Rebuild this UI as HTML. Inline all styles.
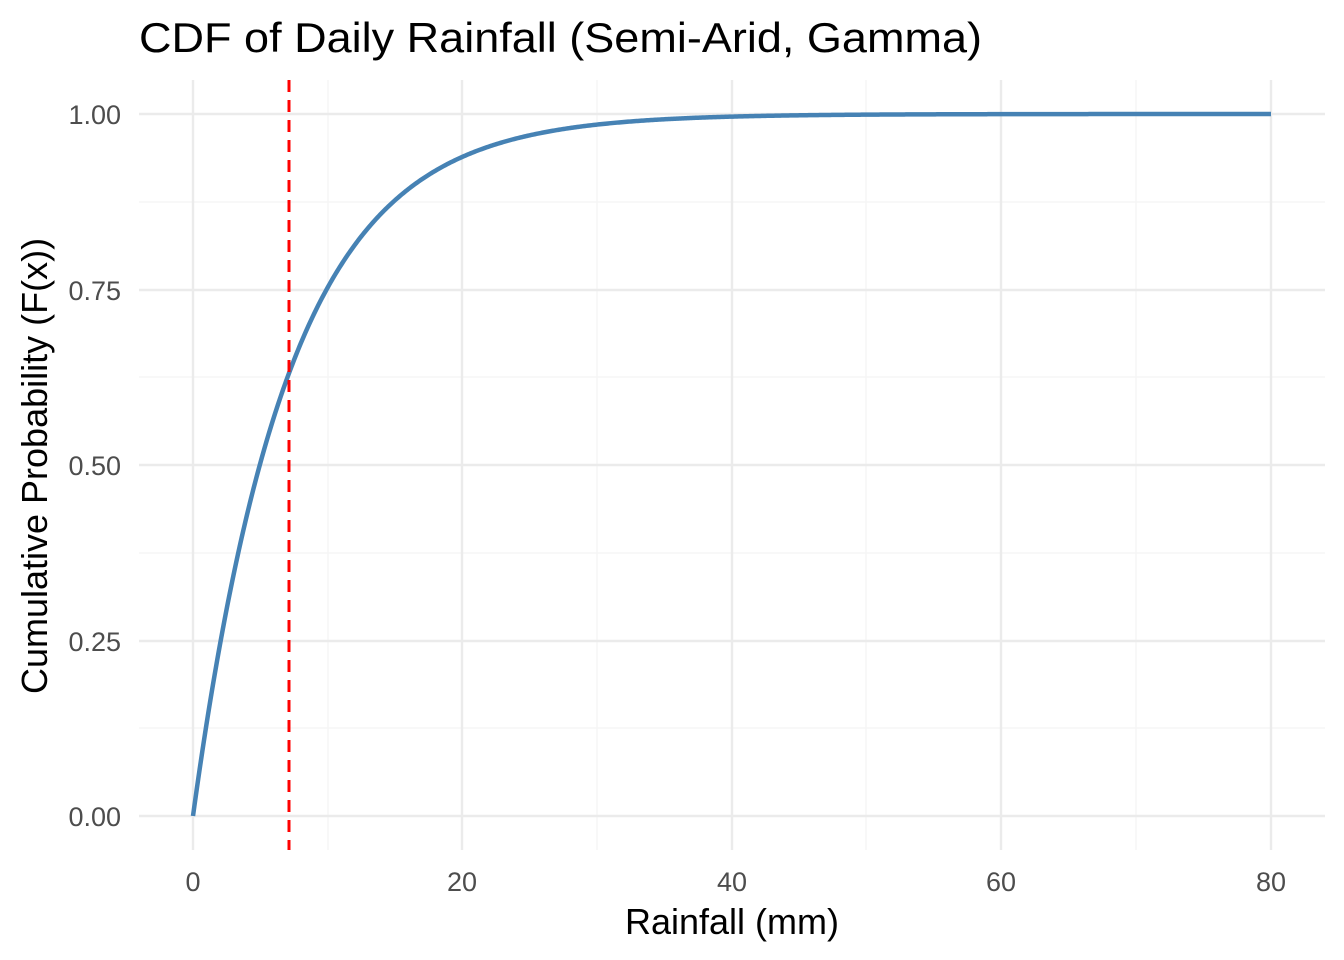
<!DOCTYPE html>
<html><head><meta charset="utf-8"><style>html,body{margin:0;padding:0;background:#fff}svg{display:block}</style></head>
<body>
<svg id="s" width="1344" height="960" xmlns="http://www.w3.org/2000/svg" font-family="Liberation Sans, Arial, sans-serif">
<rect width="1344" height="960" fill="#fff"/>
<g stroke="#f4f4f4" stroke-width="1.2">
<line x1="139" x2="1325" y1="728" y2="728"/><line x1="139" x2="1325" y1="553" y2="553"/><line x1="139" x2="1325" y1="377" y2="377"/><line x1="139" x2="1325" y1="202" y2="202"/>
<line y1="80" y2="850" x1="328" x2="328"/><line y1="80" y2="850" x1="597" x2="597"/><line y1="80" y2="850" x1="866" x2="866"/><line y1="80" y2="850" x1="1136" x2="1136"/>
</g>
<g stroke="#ebebeb" stroke-width="2.4">
<line x1="139" x2="1325" y1="816" y2="816"/><line x1="139" x2="1325" y1="641" y2="641"/><line x1="139" x2="1325" y1="465" y2="465"/><line x1="139" x2="1325" y1="290" y2="290"/><line x1="139" x2="1325" y1="114" y2="114"/>
<line y1="80" y2="850" x1="193" x2="193"/><line y1="80" y2="850" x1="462" x2="462"/><line y1="80" y2="850" x1="732" x2="732"/><line y1="80" y2="850" x1="1001" x2="1001"/><line y1="80" y2="850" x1="1271" x2="1271"/>
</g>
<path id="c" fill="none" stroke="#4682b4" stroke-width="4.5" stroke-linejoin="round"/>
<line x1="289" x2="289" y1="80" y2="850" stroke="#ff0000" stroke-width="3" stroke-dasharray="12,8"/>
<g fill="#4d4d4d" font-size="27" text-anchor="end">
<text x="121" y="826">0.00</text><text x="121" y="651">0.25</text><text x="121" y="475">0.50</text><text x="121" y="300">0.75</text><text x="121" y="124">1.00</text>
</g>
<g fill="#4d4d4d" font-size="27" text-anchor="middle">
<text x="193" y="891">0</text><text x="462" y="891">20</text><text x="732" y="891">40</text><text x="1001" y="891">60</text><text x="1271" y="891">80</text>
</g>
<text x="732" y="934" font-size="36" text-anchor="middle" fill="#000">Rainfall (mm)</text>
<text transform="translate(47,466) rotate(-90)" font-size="36" text-anchor="middle" fill="#000">Cumulative Probability (F(x))</text>
<text x="139" y="52" font-size="42" fill="#000" textLength="843" lengthAdjust="spacingAndGlyphs">CDF of Daily Rainfall (Semi-Arid, Gamma)</text>
</svg>
<script>
var d="";for(var i=0;i<=800;i++){var x=i*0.1;var F=1-Math.exp(-x/7.15);var px=193+x*13.475,py=816-F*702;d+=(i?"L":"M")+px.toFixed(2)+","+py.toFixed(2);}
document.getElementById("c").setAttribute("d",d);
</script>
</body></html>
